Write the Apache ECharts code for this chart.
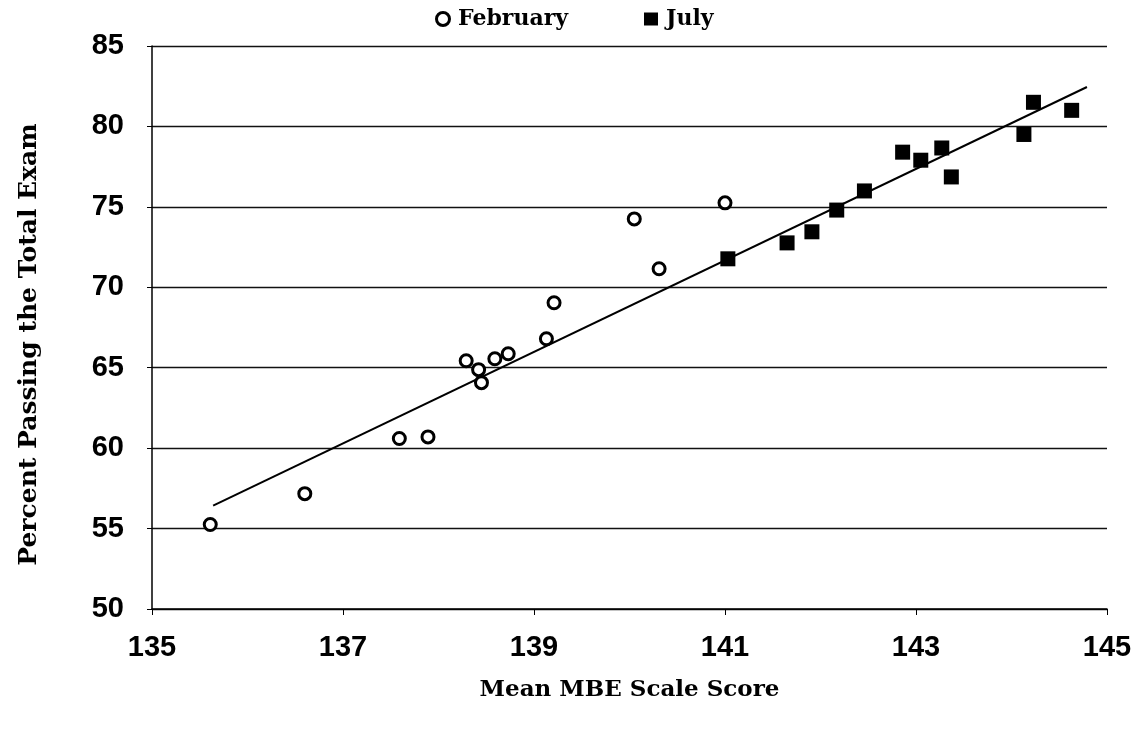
<!DOCTYPE html>
<html><head><meta charset="utf-8">
<script src="https://cdn.jsdelivr.net/npm/echarts@6/dist/echarts.min.js"></script>
<style>html,body{margin:0;padding:0;background:#fff}#c{width:1143px;height:735px}</style>
</head><body><div id="c"></div>
<script>
const febX = [135.61, 136.6, 137.59, 137.89, 138.29, 138.42, 138.45, 138.59, 138.73, 139.13, 139.21, 140.05, 140.31, 141.0];
const febY = [55.25, 57.17, 60.6, 60.7, 65.43, 64.88, 64.07, 65.56, 65.87, 66.8, 69.04, 74.25, 71.15, 75.25];
const julX = [141.03, 141.65, 141.91, 142.17, 142.46, 142.86, 143.05, 143.27, 143.37, 144.13, 144.23, 144.63];
const julY = [71.77, 72.76, 73.45, 74.8, 75.99, 78.4, 77.9, 78.66, 76.86, 79.5, 81.5, 81.0];
const trendX = [135.64, 144.79];
const trendY = [56.43, 82.45];
const xTicks = [135, 137, 139, 141, 143, 145];
const yTicks = [50, 55, 60, 65, 70, 75, 80, 85];

const zip = (a, b) => a.map((v, i) => [v, b[i]]);
const serif = "'DejaVu Serif','Liberation Serif',serif";
const sans = "'Liberation Sans',Arial,sans-serif";

const chart = echarts.init(document.getElementById('c'));
chart.setOption({
  animation: false,
  backgroundColor: '#fff',
  legend: {
    top: 3, left: 430, itemGap: 76, itemWidth: 14, itemHeight: 13,
    textStyle: {fontFamily: serif, fontWeight: 'bold', fontSize: 22, color: '#000', padding: [0, 0, 0, 3]},
    data: [
      {name: 'February', icon: 'circle', itemStyle: {color: '#fff', borderColor: '#000', borderWidth: 3, opacity: 1}},
      {name: 'July', icon: 'rect', itemStyle: {color: '#000', opacity: 1}}
    ]
  },
  grid: {left: 152, right: 36, top: 46, bottom: 126, containLabel: false},
  xAxis: {
    type: 'value', min: xTicks[0], max: xTicks[xTicks.length - 1], interval: 2,
    name: 'Mean MBE Scale Score', nameLocation: 'middle', nameGap: 70,
    nameTextStyle: {fontFamily: serif, fontWeight: 'bold', fontSize: 23, color: '#000'},
    axisLine: {show: true, lineStyle: {color: '#000', width: 1.5}},
    axisTick: {show: true, length: 6, lineStyle: {color: '#000'}},
    axisLabel: {fontFamily: sans, fontWeight: 'bold', fontSize: 29, color: '#000', margin: 24},
    splitLine: {show: false}
  },
  yAxis: {
    type: 'value', min: yTicks[0], max: yTicks[yTicks.length - 1], interval: 5,
    name: 'Percent Passing the Total Exam', nameLocation: 'middle', nameGap: 110,
    nameTextStyle: {fontFamily: serif, fontWeight: 'bold', fontSize: 25, color: '#000', padding: [0, 34, 0, 0]},
    axisLine: {show: true, lineStyle: {color: '#000', width: 1.5}},
    axisTick: {show: true, length: 5, lineStyle: {color: '#000'}},
    axisLabel: {fontFamily: sans, fontWeight: 'bold', fontSize: 29, color: '#000', margin: 28},
    splitLine: {show: true, lineStyle: {color: '#111', width: 1.3}}
  },
  series: [
    {name: 'Trend', type: 'line', data: zip(trendX, trendY), symbol: 'none',
     lineStyle: {color: '#000', width: 2}, z: 1, silent: true},
    {name: 'February', type: 'scatter', data: zip(febX, febY), symbol: 'circle', symbolSize: 12,
     itemStyle: {color: '#fff', borderColor: '#000', borderWidth: 3, opacity: 1}, z: 3},
    {name: 'July', type: 'scatter', data: zip(julX, julY), symbol: 'rect', symbolSize: 15,
     itemStyle: {color: '#000', opacity: 1}, z: 3}
  ]
});
</script></body></html>
